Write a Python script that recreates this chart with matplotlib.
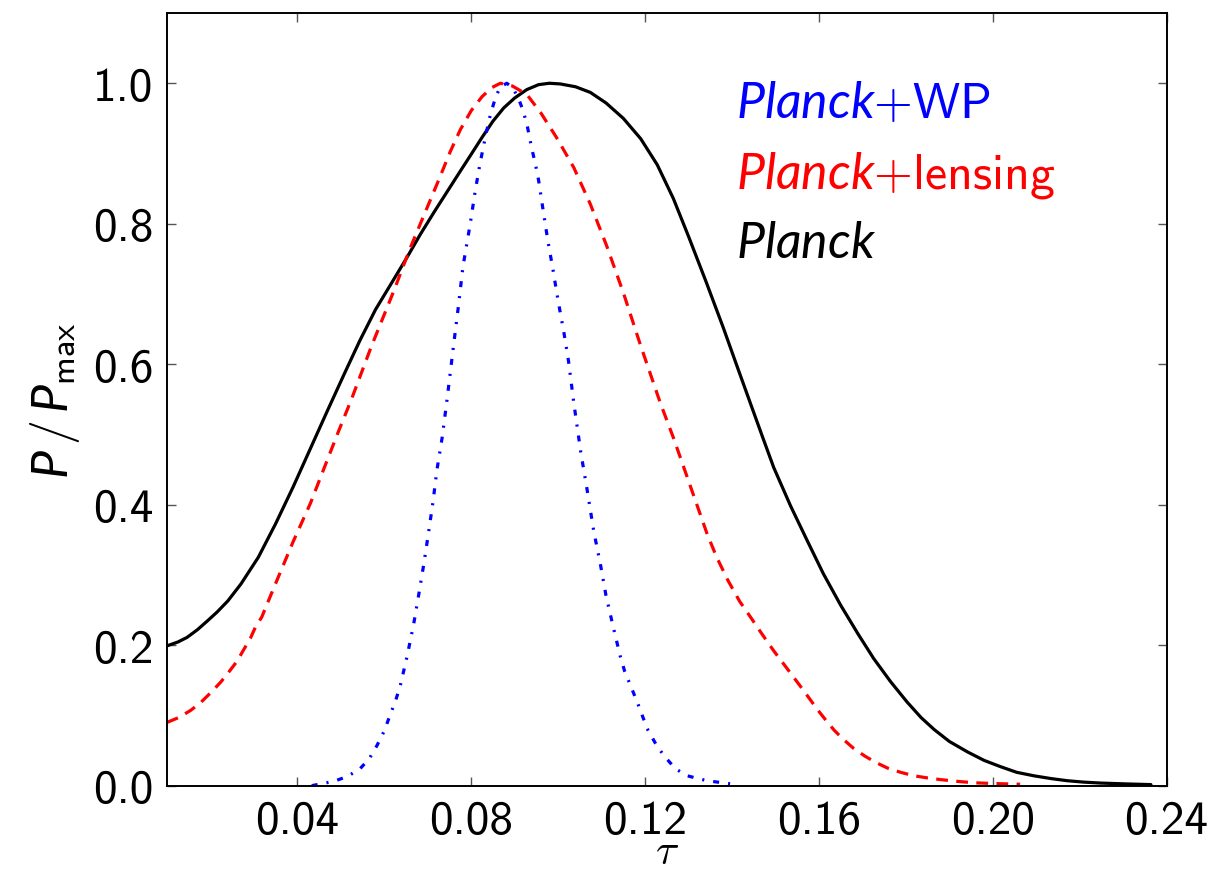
import matplotlib
matplotlib.use("Agg")
import matplotlib.pyplot as plt

# Normalised posteriors of the optical depth tau
tau_planck = [0.010, 0.0125, 0.0146, 0.017, 0.0192, 0.0215, 0.024, 0.027,
              0.031, 0.035, 0.039, 0.043, 0.047, 0.051, 0.0544, 0.058,
              0.0621, 0.0655, 0.0683, 0.0715, 0.0745, 0.0775, 0.0798,
              0.0825, 0.085, 0.0875, 0.090, 0.0928, 0.0955, 0.098, 0.1005,
              0.104, 0.1074, 0.111, 0.115, 0.119, 0.1228, 0.1265, 0.130,
              0.134, 0.138, 0.141, 0.1442, 0.147, 0.1496, 0.1535, 0.1573,
              0.161, 0.165, 0.169, 0.1726, 0.1765, 0.1803, 0.1835, 0.1865,
              0.190, 0.1942, 0.198, 0.2018, 0.2055, 0.2095, 0.2135, 0.2172,
              0.221, 0.2248, 0.2305, 0.2364]
p_planck = [0.199, 0.2045, 0.211, 0.222, 0.234, 0.247, 0.263, 0.287,
            0.325, 0.373, 0.425, 0.480, 0.535, 0.589, 0.634, 0.678,
            0.720, 0.755, 0.785, 0.817, 0.846, 0.875, 0.897,
            0.923, 0.946, 0.965, 0.979, 0.991, 0.998, 1.000, 0.999,
            0.995, 0.987, 0.972, 0.950, 0.921, 0.884, 0.836, 0.782,
            0.718, 0.652, 0.600, 0.545, 0.497, 0.453, 0.398, 0.349,
            0.302, 0.257, 0.216, 0.181, 0.148, 0.119, 0.097, 0.080,
            0.063, 0.048, 0.036, 0.027, 0.019, 0.014, 0.010, 0.007,
            0.005, 0.0037, 0.0025, 0.0015]

tau_lensing = [0.010, 0.0127, 0.0154, 0.0177, 0.0200, 0.0223, 0.0240, 0.0261,
               0.0275, 0.0292, 0.0303, 0.0318, 0.035, 0.039, 0.043, 0.0464,
               0.0495, 0.0525, 0.057, 0.0621, 0.066, 0.0683, 0.0725, 0.0752,
               0.0775, 0.080, 0.0825, 0.0848, 0.0867, 0.0895, 0.0928, 0.096,
               0.0997, 0.1036, 0.1074, 0.1112, 0.1151, 0.1189, 0.1235,
               0.1266, 0.1305, 0.1343, 0.1365, 0.139, 0.1418, 0.1436, 0.147,
               0.1496, 0.1535, 0.1558, 0.1577, 0.1597, 0.1615, 0.1635, 0.1656,
               0.168, 0.1706, 0.1731, 0.1758, 0.1788, 0.1819, 0.185, 0.188,
               0.192, 0.196, 0.2005, 0.2063]
p_lensing = [0.090, 0.097, 0.107, 0.118, 0.132, 0.147, 0.160, 0.177,
             0.192, 0.210, 0.225, 0.240, 0.288, 0.347, 0.402, 0.456,
             0.505, 0.551, 0.625, 0.703, 0.766, 0.800, 0.862, 0.903,
             0.934, 0.961, 0.981, 0.994, 1.000, 0.996, 0.984, 0.958,
             0.922, 0.880, 0.828, 0.768, 0.700, 0.628, 0.545,
             0.494, 0.425, 0.358, 0.325, 0.293, 0.262, 0.246, 0.215,
             0.192, 0.160, 0.141, 0.125, 0.108, 0.094, 0.079, 0.066,
             0.053, 0.042, 0.033, 0.025, 0.019, 0.014, 0.011, 0.0086,
             0.006, 0.004, 0.003, 0.002]

tau_wp = [0.0433, 0.0483, 0.0515, 0.0544, 0.0565, 0.0583, 0.0600, 0.0613,
          0.0626, 0.0637, 0.0652, 0.0667, 0.0679, 0.0691, 0.0702, 0.0712,
          0.0721, 0.0733, 0.0744, 0.0759, 0.0770, 0.0781, 0.0798, 0.0809,
          0.0820, 0.0833, 0.0844, 0.0856, 0.0867, 0.0882, 0.0896, 0.0909,
          0.0920, 0.0930, 0.0939, 0.0948, 0.0955, 0.0965, 0.0976, 0.0988,
          0.1000, 0.1013, 0.1024, 0.1036, 0.1052, 0.1067, 0.1082, 0.1097,
          0.1110, 0.1126, 0.1143, 0.1153, 0.1182, 0.1205, 0.1225, 0.1243,
          0.1270, 0.1297, 0.1343, 0.1404]
p_wp = [0.000, 0.006, 0.013, 0.024, 0.038, 0.057, 0.078, 0.100,
        0.121, 0.143, 0.183, 0.228, 0.271, 0.316, 0.361, 0.404,
        0.449, 0.495, 0.548, 0.625, 0.680, 0.739, 0.801, 0.846,
        0.885, 0.925, 0.955, 0.980, 0.995, 1.000, 0.993, 0.978,
        0.960, 0.936, 0.908, 0.884, 0.862, 0.821, 0.777, 0.735,
        0.690, 0.646, 0.604, 0.545, 0.475, 0.420, 0.362, 0.316,
        0.271, 0.228, 0.184, 0.163, 0.119, 0.081, 0.059, 0.043,
        0.024, 0.014, 0.007, 0.002]

x_ticks = [0.04, 0.08, 0.12, 0.16, 0.20, 0.24]
x_ticklabels = ["0.04", "0.08", "0.12", "0.16", "0.20", "0.24"]
y_ticks = [0.0, 0.2, 0.4, 0.6, 0.8, 1.0]
y_ticklabels = ["0.0", "0.2", "0.4", "0.6", "0.8", "1.0"]

labels = [r"$\mathit{Planck}$+WP", r"$\mathit{Planck}$+lensing", r"$\mathit{Planck}$"]
label_colors = ["blue", "red", "black"]
label_y = [0.952, 0.852, 0.752]

plt.rcParams["font.family"] = ["cmss10", "DejaVu Sans"]
plt.rcParams["mathtext.fontset"] = "custom"
plt.rcParams["mathtext.rm"] = "cmss10"
plt.rcParams["mathtext.sf"] = "cmss10"
plt.rcParams["mathtext.it"] = "Lato:italic"
plt.rcParams["axes.unicode_minus"] = False
plt.rcParams["lines.scale_dashes"] = False

fig = plt.figure(figsize=(12.19, 8.70), dpi=100)
ax = fig.add_axes([0.137, 0.0958, 0.820, 0.8881])

ax.plot(tau_planck, p_planck, color="black", lw=2.3,
        solid_joinstyle="round", solid_capstyle="round")
ax.plot(tau_lensing, p_lensing, color="red", lw=2.3, dashes=(8.5, 6.0),
        dash_joinstyle="round")
ax.plot(tau_wp, p_wp, color="blue", lw=2.3, dashes=(4.3, 6.5, 1.5, 6.5),
        dash_joinstyle="round")

for txt, c, yy in zip(labels, label_colors, label_y):
    ax.text(0.141, yy, txt, color=c, fontsize=36, va="baseline", ha="left")

ax.set_xlim(0.01, 0.24)
ax.set_ylim(0.0, 1.1)
ax.set_xticks(x_ticks)
ax.set_xticklabels(x_ticklabels)
ax.set_yticks(y_ticks)
ax.set_yticklabels(y_ticklabels)

ax.tick_params(direction="in", length=6.5, width=1.0, color="#555555",
               labelsize=34, top=True, right=True, pad=10)
for s in ax.spines.values():
    s.set_linewidth(1.4)

ax.set_xlabel(r"$\tau$", fontsize=31, labelpad=-6, math_fontfamily="cm")
ax.set_ylabel(r"$P\,/\,P_{\rm max}$", fontsize=36, labelpad=8)

fig.savefig("out.png", dpi=100)
